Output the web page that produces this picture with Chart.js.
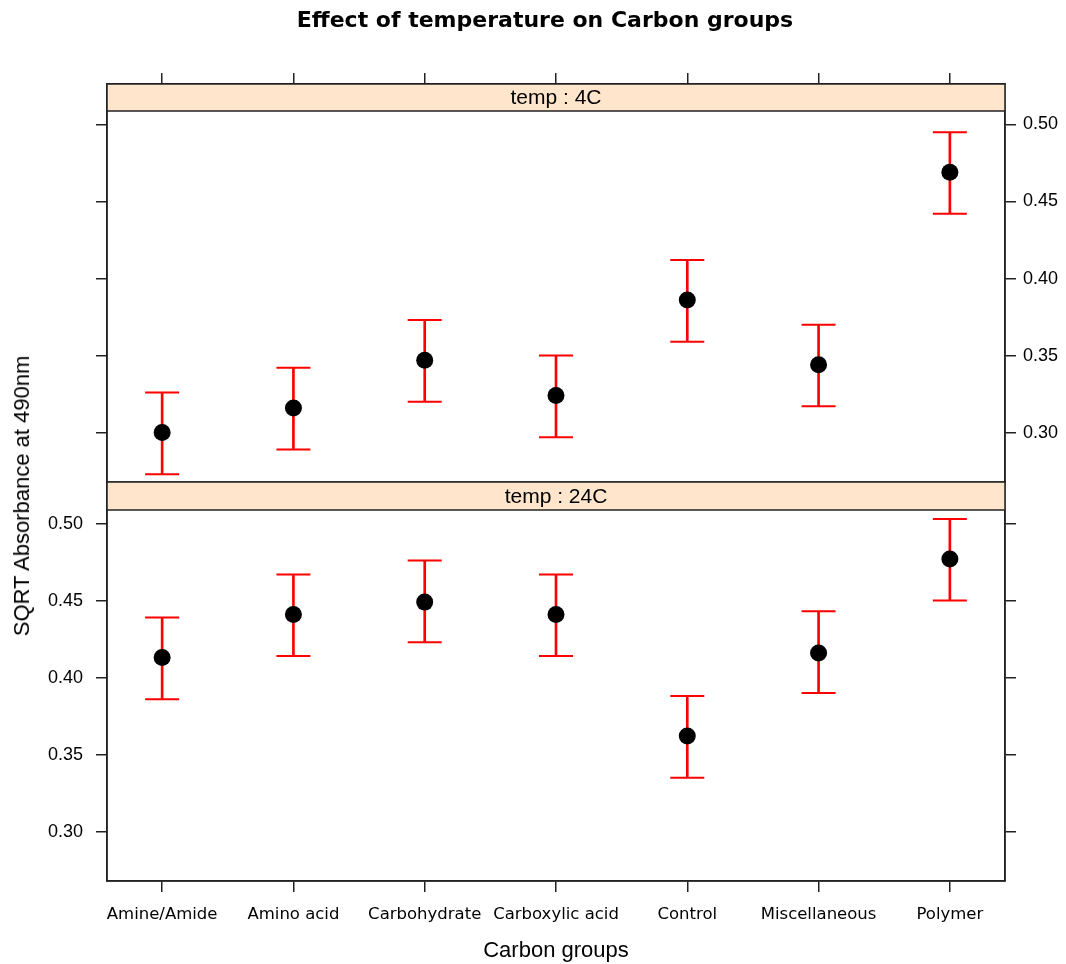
<!DOCTYPE html>
<html>
<head>
<meta charset="utf-8">
<title>Effect of temperature on Carbon groups</title>
<script src="https://cdn.jsdelivr.net/npm/chart.js@4.4.0/dist/chart.umd.min.js"></script>
<style>
  body { margin: 0; background: #fff; }
  #wrap { position: relative; width: 1066px; height: 964px; }
  #wrap canvas { position: absolute; left: 0; top: 0; }
  .title {
    position: absolute; left: 545px; top: 9px; transform: translateX(-50%);
    font: bold 22px "DejaVu Sans", sans-serif; line-height: 22px; white-space: nowrap;
  }
  .ylab {
    position: absolute; left: 22px; top: 496px; transform: translate(-50%, -50%) rotate(-90deg);
    font: 22px "Liberation Sans", Arial, sans-serif; white-space: nowrap;
  }
</style>
</head>
<body>
<div id="wrap">
  <canvas id="panel4" width="1066" height="964"></canvas>
  <canvas id="panel24" width="1066" height="964"></canvas>
  <div class="title">Effect of temperature on Carbon groups</div>
  <div class="ylab">SQRT Absorbance at 490nm</div>
</div>
<script>
// data
const categories = ['Amine/Amide', 'Amino acid', 'Carbohydrate', 'Carboxylic acid', 'Control', 'Miscellaneous', 'Polymer'];
const yTicks = [0.30, 0.35, 0.40, 0.45, 0.50];

const mean4C  = [0.300, 0.316, 0.347, 0.324, 0.386, 0.344, 0.469];
const lower4C = [0.273, 0.289, 0.320, 0.297, 0.359, 0.317, 0.442];
const upper4C = [0.326, 0.342, 0.373, 0.350, 0.412, 0.370, 0.495];

const mean24C  = [0.413, 0.441, 0.449, 0.441, 0.362, 0.416, 0.477];
const lower24C = [0.386, 0.414, 0.423, 0.414, 0.335, 0.390, 0.450];
const upper24C = [0.439, 0.467, 0.476, 0.467, 0.388, 0.443, 0.503];

Chart.defaults.font.family = '"Liberation Sans", Arial, sans-serif';
Chart.defaults.color = '#000';

const LINE = '#222';
const X_MIN = 0.58, X_MAX = categories.length + 0.42;

// peach strip + panel frame
const stripPlugin = {
  id: 'strip',
  afterDatasetsDraw(chart, args, opts) {
    const { ctx, chartArea: a } = chart;
    const l = Math.round(a.left), r = Math.round(a.right);
    const t = Math.round(a.top), b = Math.round(a.bottom);
    ctx.save();
    ctx.fillStyle = '#ffe5cc';
    ctx.fillRect(l, t, r - l, opts.height);
    ctx.strokeStyle = LINE;
    ctx.lineWidth = 1.5;
    ctx.strokeRect(l, t, r - l, b - t);
    ctx.beginPath();
    ctx.moveTo(l, t + opts.height);
    ctx.lineTo(r, t + opts.height);
    ctx.stroke();
    ctx.fillStyle = '#000';
    ctx.font = '21px "Liberation Sans", Arial, sans-serif';
    ctx.textAlign = 'center';
    ctx.textBaseline = 'middle';
    ctx.fillText(opts.text, (l + r) / 2, t + opts.height / 2 + 1);
    ctx.restore();
  }
};

function yAxis(position, showLabels, width, min, max) {
  return {
    type: 'linear', position, min, max,
    afterBuildTicks: s => { s.ticks = yTicks.map(v => ({ value: v })); },
    afterFit: s => { s.width = width; },
    grid: { drawOnChartArea: false, tickLength: 11, color: LINE, lineWidth: 1.5 },
    border: { color: LINE, width: 1.5 },
    ticks: {
      display: showLabels,
      padding: position === 'left' ? 13 : 7,
      font: { size: 18 },
      callback: v => v.toFixed(2)
    }
  };
}

function xAxis(position, opts) {
  return Object.assign({
    type: 'linear', position, min: X_MIN, max: X_MAX, offset: false,
    afterBuildTicks: s => { s.ticks = categories.map((c, i) => ({ value: i + 1 })); },
    grid: { drawOnChartArea: false, offset: false, tickLength: 11, color: LINE, lineWidth: 1.5 },
    border: { color: LINE, width: 1.5 },
    ticks: { display: false }
  }, opts);
}

function panelDatasets(mean, lower, upper) {
  const n = categories.length;
  return [
    {
      type: 'scatter', order: 0,
      data: mean.map((v, i) => ({ x: i + 1, y: v })),
      pointRadius: 8.5, pointBackgroundColor: '#000', pointBorderWidth: 0
    },
    {
      type: 'scatter', order: 1,
      data: lower.concat(upper).map((v, i) => ({ x: (i % n) + 1, y: v })),
      pointStyle: 'line', pointRadius: 17,
      pointBorderColor: '#ff0000', borderColor: '#ff0000', pointBorderWidth: 2
    },
    {
      type: 'bar', order: 2,
      data: lower.map((v, i) => ({ x: i + 1, y: [v, upper[i]] })),
      barThickness: 2, backgroundColor: '#ff0000', borderWidth: 0
    }
  ];
}

const common = {
  responsive: false,
  animation: false,
  plugins: { legend: { display: false }, tooltip: { enabled: false } }
};

// upper panel: temp 4C
new Chart(document.getElementById('panel4'), {
  type: 'scatter',
  data: { datasets: panelDatasets(mean4C, lower4C, upper4C) },
  options: Object.assign({}, common, {
    layout: { padding: { top: 0, bottom: 482, left: 0, right: 0 } },
    plugins: Object.assign({}, common.plugins, { strip: { text: 'temp : 4C', height: 27 } }),
    scales: {
      x: xAxis('bottom', { display: false }),
      xt: xAxis('top', { afterFit: s => { s.height = 84; } }),
      yl: yAxis('left', false, 107, 0.2679, 0.5263),
      y: yAxis('right', true, 61, 0.2679, 0.5263)
    }
  }),
  plugins: [stripPlugin]
});

// lower panel: temp 24C
new Chart(document.getElementById('panel24'), {
  type: 'scatter',
  data: { datasets: panelDatasets(mean24C, lower24C, upper24C) },
  options: Object.assign({}, common, {
    layout: { padding: { top: 482, bottom: 0, left: 0, right: 0 } },
    plugins: Object.assign({}, common.plugins, { strip: { text: 'temp : 24C', height: 28 } }),
    scales: {
      x: xAxis('bottom', {
        afterFit: s => { s.height = 83; },
        ticks: {
          display: true, padding: 13, autoSkip: false, maxRotation: 0,
          font: { family: '"DejaVu Sans", sans-serif', size: 16.5 },
          callback: v => categories[Math.round(v) - 1]
        },
        title: { display: true, text: 'Carbon groups', font: { size: 22 }, padding: { top: 0, bottom: 0 } }
      }),
      y: yAxis('left', true, 107, 0.2679, 0.5270),
      yr: yAxis('right', false, 61, 0.2679, 0.5270)
    }
  }),
  plugins: [stripPlugin]
});
</script>
</body>
</html>
